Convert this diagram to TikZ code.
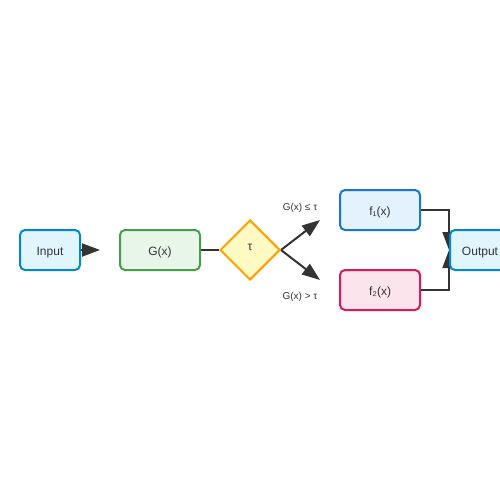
\documentclass[tikz,border=0pt]{standalone}
\usepackage{fontspec}
\setmainfont{Liberation Sans}
\usetikzlibrary{positioning,shapes.geometric,arrows.meta}

\definecolor{txt}{HTML}{333333}
\definecolor{bluefill}{HTML}{E1F5FE}
\definecolor{blueline}{HTML}{0288D1}
\definecolor{greenfill}{HTML}{E8F5E9}
\definecolor{greenline}{HTML}{43A047}
\definecolor{yelfill}{HTML}{FFF9C4}
\definecolor{yelline}{HTML}{FFA000}
\definecolor{fonefill}{HTML}{E3F2FD}
\definecolor{foneline}{HTML}{1976D2}
\definecolor{ftwofill}{HTML}{FCE4EC}
\definecolor{ftwoline}{HTML}{D81B60}

\pgfdeclarelayer{background}
\pgfsetlayers{background,main}

\tikzset{
  box/.style={draw, rectangle, rounded corners=5pt, line width=2pt,
    minimum width=60pt, minimum height=40pt, inner sep=0pt,
    text height=10pt, text depth=0pt,
    text=txt, font=\fontsize{12}{14}\selectfont},
  wire/.style={draw=txt, line width=2pt},
  arr/.style={wire, -{Triangle[length=18pt,width=13pt]}},
  cond/.style={text=txt, font=\fontsize{10}{12}\selectfont, inner sep=0pt, anchor=base}
}

\begin{document}
\begin{tikzpicture}[x=1pt, y=-1pt]
  \useasboundingbox (0,0) rectangle (500,500);

  % \node[box] (in) at (50,250) {Input};
  \node [box, fill=bluefill, draw=blueline](in) at (50,250) {Input};
  \node [box, fill=greenfill, draw=greenline, minimum width=80pt](g) at (160,250) {G(x)};
  \node [diamond, aspect=1, minimum width=60pt, minimum height=60pt, inner sep=0pt,
         fill=yelfill, draw=yelline, line width=2pt](dec) at (250,250) {};
  \node [cond, font=\fontsize{12}{14}\selectfont](tau) at (250,250) {τ};
  \node [box, fill=fonefill, draw=foneline, minimum width=80pt](fone) at (380,210) {f₁(x)};
  \node [box, fill=ftwofill, draw=ftwoline, minimum width=80pt](ftwo) at (380,290) {f₂(x)};
  \node [box, fill=bluefill, draw=blueline](out) at (480,250) {Output};

  \coordinate (gin) at (100,250);
  \coordinate (up) at (320,220);
  \coordinate (down) at (320,280);

  \node [cond](le) at (300,210.5) {G(x) ≤ τ};
  \node [cond](gt) at (300,299.5) {G(x) > τ};

 % connectors behind the boxes
  \begin{pgfonlayer}{background}
    \draw[arr] (in.east) -- (gin);
    \draw[wire] (g.east) -- (dec.west);
    \draw[arr] (dec.east) -- (up);
    \draw[arr] (dec.east) -- (down);
    \draw[arr] (fone.east) -| (out.west);
    \draw[arr] (ftwo.east) -| (out.west);
  \end{pgfonlayer}
\end{tikzpicture}
\end{document}
